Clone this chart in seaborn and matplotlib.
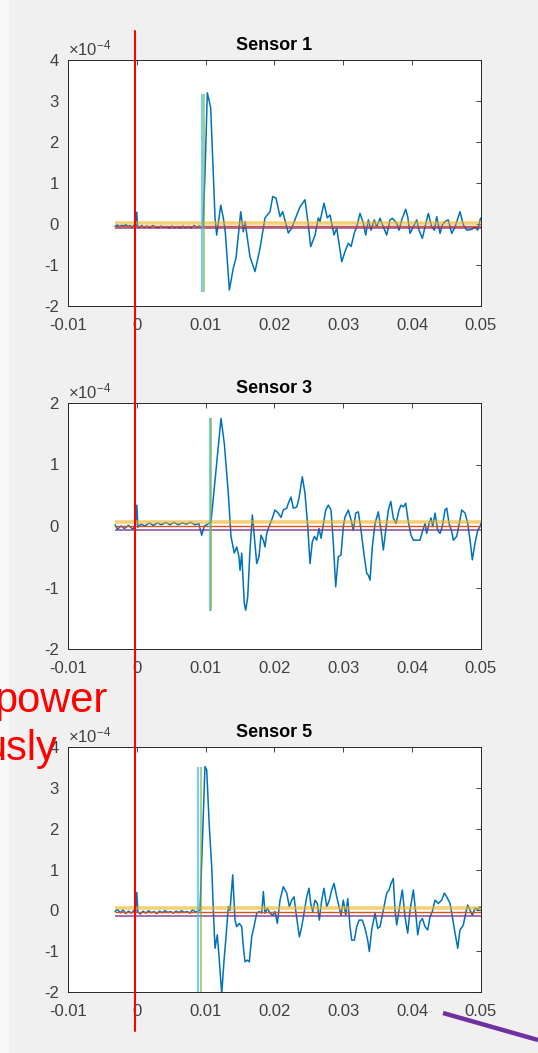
import numpy as np
import pandas as pd
import matplotlib
matplotlib.use("Agg")
import matplotlib.pyplot as plt
import seaborn as sns
from matplotlib.lines import Line2D
from matplotlib.patches import Rectangle

# ---------------- data ----------------
titles = ["Sensor 1", "Sensor 3", "Sensor 5"]
x_ticks = [-0.01, 0, 0.01, 0.02, 0.03, 0.04, 0.05]
x_tick_labels = ["-0.01", "0", "0.01", "0.02", "0.03", "0.04", "0.05"]
y_limits = [(-2, 4), (-2, 2), (-2, 4)]

# time in ms, amplitude in units of 1e-4
s1_t = [-3.17, -2.8, -2.5, -2.2, -1.9, -1.6, -1.3, -1.0, -0.7, -0.4, -0.15, 0.0, 0.1, 0.3, 0.7,
        1.1, 1.5, 1.9, 2.3, 2.7, 3.1, 3.5, 3.9, 4.3, 4.7, 5.1, 5.5, 5.9, 6.3, 6.7, 7.1, 7.5, 7.9,
        8.3, 8.7, 9.1, 9.4, 9.61, 9.9, 10.24, 10.45, 10.73, 11.36, 11.60, 12.19, 12.56, 12.85,
        13.44, 14.02, 14.41, 15.09, 15.47, 15.72, 16.44, 17.17, 17.90, 18.62, 19.35, 19.74,
        20.22, 20.80, 21.19, 22.01, 22.50, 23.23, 23.71, 24.43, 24.91, 25.26, 25.89, 26.37,
        26.61, 27.19, 27.67, 28.07, 28.65, 29.04, 29.77, 30.25, 30.72, 31.12, 31.60, 31.95,
        32.42, 32.90, 33.25, 33.63, 34.02, 34.50, 34.85, 35.33, 35.81, 36.30, 36.78, 37.12,
        37.76, 38.09, 38.48, 39.06, 39.35, 39.69, 40.17, 40.66, 41.00, 41.48, 41.87, 42.35,
        42.84, 43.22, 43.57, 44.05, 44.38, 44.77, 45.25, 45.75, 46.23, 46.95, 47.43, 47.93,
        48.65, 49.13, 49.52, 49.86, 50.00]
s1_v = [-0.06, -0.02, -0.07, -0.03, -0.05, -0.01, -0.06, -0.04, -0.08, -0.03, -0.06, 0.29, -0.05,
        -0.09, -0.04, -0.08, -0.05, -0.09, -0.04, -0.07, -0.10, -0.05, -0.08, -0.06, -0.10, -0.05,
        -0.09, -0.06, -0.10, -0.05, -0.09, -0.06, -0.10, -0.04, -0.08, -0.05, -0.10, -0.05, 1.2,
        3.20, 3.05, 2.83, 0.15, -0.27, 0.46, 0.15, -0.19, -1.61, -1.07, -0.83, 0.30, -0.19, 0.06,
        -0.80, -1.16, -0.59, 0.15, 0.30, 0.67, 0.63, 0.18, 0.30, -0.22, -0.10, 0.22, 0.42, 0.59,
        -0.02, -0.55, -0.27, 0.15, 0.06, 0.51, 0.15, 0.22, -0.27, -0.10, -0.92, -0.67, -0.47,
        -0.55, -0.22, -0.07, 0.26, 0.02, -0.27, 0.10, -0.15, 0.10, -0.07, 0.14, -0.07, -0.27,
        0.10, 0.14, 0.02, -0.15, 0.10, 0.36, 0.18, -0.23, -0.07, 0.10, -0.15, -0.35, -0.07, 0.26,
        -0.07, -0.15, 0.18, -0.23, -0.02, 0.06, 0.10, -0.23, -0.07, 0.30, -0.02, -0.15, -0.13,
        -0.07, -0.15, 0.10, 0.15]

s3_t = [-3.17, -2.8, -2.3, -1.8, -1.2, -0.6, -0.2, 0.0, 0.15, 0.6, 1.2, 1.8, 2.4, 3.0, 3.6, 4.2,
        4.8, 5.4, 6.0, 6.6, 7.2, 7.8, 8.45, 9.0, 9.43, 9.8, 10.15, 10.78, 12.23, 12.71, 13.29,
        13.68, 13.87, 14.16, 14.51, 14.84, 14.99, 15.24, 15.61, 15.82, 16.11, 16.44, 16.78,
        17.07, 17.42, 17.75, 18.04, 18.38, 18.62, 18.87, 19.20, 19.60, 20.07, 20.55, 20.95,
        21.28, 21.78, 22.01, 22.40, 22.73, 23.23, 23.56, 24.04, 24.43, 24.83, 25.16, 25.49,
        25.79, 26.13, 26.47, 26.76, 27.09, 27.44, 27.82, 28.21, 28.55, 28.89, 29.27, 29.66,
        30.00, 30.25, 30.72, 31.12, 31.45, 31.80, 32.18, 32.57, 33.05, 33.40, 33.63, 33.88,
        34.21, 34.60, 35.08, 35.48, 35.81, 36.16, 36.54, 36.89, 37.26, 37.66, 38.09, 38.38,
        38.72, 39.06, 39.44, 39.83, 40.17, 40.66, 41.14, 41.48, 41.87, 42.11, 42.45, 42.74,
        42.99, 43.32, 43.71, 44.05, 44.38, 44.77, 45.02, 45.36, 45.75, 45.98, 46.47, 46.95,
        47.20, 47.68, 48.07, 48.41, 48.74, 49.13, 49.52, 49.86, 50.00]
s3_v = [0.02, -0.05, 0.00, -0.04, 0.01, -0.05, 0.00, 0.34, -0.02, 0.03, 0.00, 0.05, 0.01, 0.05,
        0.02, 0.06, 0.02, 0.06, 0.02, 0.05, 0.03, 0.06, 0.02, 0.04, -0.15, 0.00, 0.02, 0.07, 1.75,
        1.34, 0.53, -0.17, -0.28, -0.44, -0.34, -0.50, -0.72, -0.44, -1.26, -1.37, -1.15, -0.39,
        0.18, -0.17, -0.61, -0.50, -0.15, -0.23, -0.34, -0.12, -0.01, 0.10, 0.26, 0.21, 0.14,
        0.26, 0.29, 0.37, 0.47, 0.29, 0.31, 0.45, 0.80, 0.53, -0.01, -0.61, -0.26, -0.17, -0.23,
        -0.04, -0.20, 0.02, 0.26, 0.34, 0.26, -0.28, -0.99, -0.50, -0.47, -0.01, 0.15, 0.26,
        0.10, -0.07, 0.21, 0.23, -0.07, -0.50, -0.77, -0.80, -0.88, -0.34, 0.04, 0.23, -0.07,
        -0.39, -0.07, 0.26, 0.40, 0.13, 0.04, 0.26, 0.34, 0.31, 0.37, 0.07, -0.15, -0.23, -0.23,
        -0.23, -0.09, 0.04, -0.12, 0.04, 0.13, -0.01, 0.21, -0.07, -0.12, -0.01, 0.26, 0.29,
        0.04, -0.09, -0.23, -0.17, 0.10, 0.26, 0.21, 0.04, -0.23, -0.55, -0.28, -0.07, -0.01,
        0.05]

s5_t = [-3.17, -2.8, -2.4, -2.0, -1.6, -1.2, -0.8, -0.4, -0.15, 0.0, 0.15, 0.5, 0.9, 1.3, 1.7,
        2.1, 2.5, 2.9, 3.3, 3.7, 4.1, 4.5, 4.9, 5.3, 5.7, 6.1, 6.5, 6.9, 7.3, 7.7, 8.1, 8.5, 8.9,
        9.18, 9.90, 10.15, 10.53, 10.88, 11.11, 11.36, 11.69, 11.98, 12.33, 12.67, 12.96, 13.29,
        13.54, 13.93, 14.26, 14.51, 14.89, 15.24, 15.47, 15.72, 16.05, 16.34, 16.69, 17.02,
        17.42, 17.79, 18.14, 18.38, 18.62, 18.96, 19.35, 19.74, 20.07, 20.41, 20.80, 21.28,
        21.78, 22.15, 22.50, 22.84, 23.13, 23.61, 23.95, 24.29, 24.68, 25.01, 25.26, 25.55,
        25.89, 26.22, 26.51, 26.86, 27.19, 27.59, 27.97, 28.31, 28.65, 29.04, 29.27, 29.66,
        30.00, 30.35, 30.64, 30.97, 31.22, 31.60, 31.95, 32.28, 32.76, 33.15, 33.54, 33.78,
        34.12, 34.60, 35.00, 35.33, 35.81, 36.30, 36.64, 36.93, 37.26, 37.51, 37.76, 38.24,
        38.57, 38.96, 39.35, 39.69, 40.17, 40.52, 40.81, 41.14, 41.48, 41.87, 42.26, 42.59,
        42.93, 43.32, 43.80, 44.29, 44.67, 45.02, 45.50, 45.84, 46.23, 46.62, 46.95, 47.43,
        47.78, 48.07, 48.41, 48.74, 49.13, 49.52, 49.86, 50.00]
s5_v = [-0.03, 0.02, -0.06, 0.01, -0.08, -0.02, -0.07, 0.00, -0.05, 0.44, -0.04, -0.09, -0.02,
        -0.07, -0.01, -0.06, -0.03, -0.08, -0.02, -0.06, -0.01, -0.05, -0.03, -0.07, -0.02,
        -0.06, -0.01, -0.05, -0.03, -0.07, 0.01, -0.04, -0.02, 0.00, 3.52, 3.44, 2.05, 1.07,
        0.00, -0.93, -0.60, -1.22, -2.05, -1.22, -0.65, 0.09, 0.00, 0.87, -0.24, -0.40, -0.32,
        -0.40, -0.89, -1.26, -1.22, -1.26, -0.65, -0.40, -0.07, -0.03, -0.07, 0.46, -0.07, 0.05,
        -0.07, -0.12, -0.03, -0.32, 0.25, 0.58, 0.42, 0.09, 0.25, 0.33, -0.07, -0.65, -0.40,
        -0.07, 0.33, 0.54, 0.17, -0.03, 0.25, 0.17, -0.24, 0.25, 0.54, 0.09, 0.25, 0.50, 0.66,
        0.33, 0.17, -0.12, 0.25, -0.12, 0.29, -0.40, -0.73, -0.73, -0.40, -0.24, -0.24, -0.44,
        -0.73, -1.01, -0.48, -0.07, -0.44, -0.40, 0.00, 0.42, 0.50, 0.66, 0.78, 0.00, -0.36,
        0.17, 0.50, -0.16, -0.56, 0.00, 0.50, -0.07, -0.60, -0.28, -0.20, -0.40, -0.48, -0.16,
        -0.03, 0.25, 0.17, 0.25, 0.42, 0.33, 0.17, -0.16, -0.56, -0.93, -0.48, -0.36, -0.07,
        0.13, 0.00, -0.12, 0.05, 0.02, 0.09, 0.05]

onset_cyan_ms = [9.50, 10.63, 8.93]
onset_green_ms = [9.80, 10.82, 9.28]
onset_low = [-1.65, -1.38, -2.05]
onset_high = [3.17, 1.76, 3.52]
thr_yellow = [0.03, 0.07, 0.06]
thr_red = [-0.04, 0.00, -0.03]
thr_purple = [-0.09, -0.07, -0.13]
thr_start_ms = -3.17
thr_end_ms = 50.0

times = [s1_t, s3_t, s5_t]
values = [s1_v, s3_v, s5_v]

# ---------------- style ----------------
sns.set_style("white")
plt.rcParams["font.family"] = ["Liberation Sans", "DejaVu Sans"]
plt.rcParams["mathtext.fontset"] = "custom"
plt.rcParams["mathtext.rm"] = "Liberation Sans"
plt.rcParams["mathtext.it"] = "Liberation Sans:italic"

W, H = 538, 1053
fig = plt.figure(figsize=(W / 100, H / 100), dpi=100)
fig.patch.set_facecolor("#f9f9f9")
fig.add_artist(Rectangle((9 / W, 0), 1, 1, transform=fig.transFigure,
                         facecolor="#f0f0f0", edgecolor="none", zorder=-10))

positions = [[68 / W, 1 - 306 / H, 413 / W, 246 / H],
             [68 / W, 1 - 649 / H, 413 / W, 246 / H],
             [68 / W, 1 - 992 / H, 413 / W, 245 / H]]

axis_col = "#262626"
label_col = "#404040"
for i in range(3):
    ax = fig.add_axes(positions[i])
    ax.set_facecolor("white")
    df = pd.DataFrame({"t": np.array(times[i]) / 1000.0, "v": values[i]})
    sns.lineplot(data=df, x="t", y="v", ax=ax, color="#0072BD", linewidth=1.1,
                 estimator=None, sort=False, zorder=2)
    x0, x1 = thr_start_ms / 1000.0, thr_end_ms / 1000.0
    ax.hlines(thr_yellow[i], x0, x1, color="#EDB120", linewidth=2.6, alpha=0.6, zorder=3)
    ax.hlines(thr_red[i], x0, x1, color="#D95319", linewidth=1.0, zorder=3)
    ax.hlines(thr_purple[i], x0, x1, color="#7E2F8E", linewidth=1.3, alpha=0.75, zorder=3)
    ax.vlines(onset_cyan_ms[i] / 1000.0, onset_low[i], onset_high[i], color="#4DBEEE",
              linewidth=1.6, alpha=0.75, zorder=4)
    ax.vlines(onset_green_ms[i] / 1000.0, onset_low[i], onset_high[i], color="#77AC30",
              linewidth=1.4, alpha=0.6, zorder=4)

    lo, hi = y_limits[i]
    ax.set_xlim(-0.01, 0.05)
    ax.set_ylim(lo, hi)
    ax.set_xticks(x_ticks)
    ax.set_xticklabels(x_tick_labels)
    yt = list(range(lo, hi + 1))
    ax.set_yticks(yt)
    ax.set_yticklabels([str(v) for v in yt])
    ax.tick_params(direction="in", length=3.5, width=0.6, color=axis_col,
                   labelcolor=label_col, labelsize=12, top=True, right=True)
    ax.tick_params(axis="x", pad=8.5)
    ax.tick_params(axis="y", pad=6.5)
    for sp in ax.spines.values():
        sp.set_visible(True)
        sp.set_color(axis_col)
        sp.set_linewidth(0.7)
    ax.set_xlabel("")
    ax.set_ylabel("")
    ax.set_title(titles[i], fontsize=13, fontweight="bold", pad=7, color="black")
    ax.text(0.0, 1 + 5 / 246, r"$\times10^{-4}$", transform=ax.transAxes,
            ha="left", va="baseline", fontsize=12, color=label_col)

# slide annotations
fig.add_artist(Line2D([135.3 / W, 135.3 / W], [1 - 31 / H, 1 - 1031 / H],
                      transform=fig.transFigure, color="#ff0000", linewidth=1.5, zorder=10))
fig.text(108 / W, 1 - 712 / H, "power", ha="right", va="baseline", fontsize=30,
         color="#ff0000", zorder=11)
fig.text(57 / W, 1 - 760 / H, "usly", ha="right", va="baseline", fontsize=30,
         color="#ff0000", zorder=11)
fig.add_artist(Line2D([443 / W, 1.0], [1 - 1013 / H, 1 - 1040 / H],
                      transform=fig.transFigure, color="#7030A0", linewidth=3.2,
                      solid_capstyle="butt", zorder=10))

fig.savefig("out.png", dpi=100, facecolor=fig.get_facecolor())
